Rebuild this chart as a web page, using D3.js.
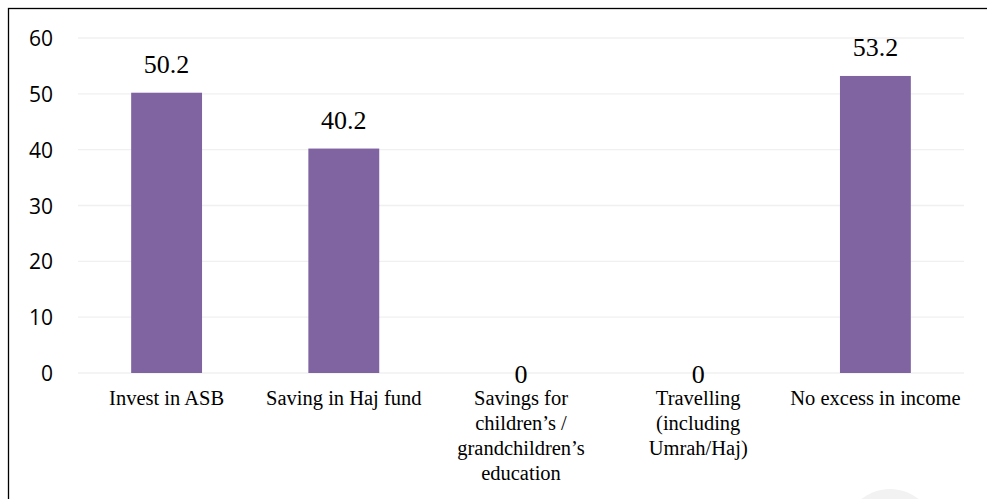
<!DOCTYPE html>
<html><head><meta charset="utf-8">
<script src="https://cdn.jsdelivr.net/npm/d3@7"></script>
<style>body{margin:0;background:#fff}svg{display:block}</style>
</head><body>
<script>
const categories = [["Invest in ASB"],["Saving in Haj fund"],["Savings for","children’s /","grandchildren’s","education"],["Travelling","(including","Umrah/Haj)"],["No excess in income"]];
const values = [50.2, 40.2, 0, 0, 53.2];
const yTicks = [0,10,20,30,40,50,60];

const SERIF = "Liberation Serif";
const SANS = "Open Sans";

const W = 987, H = 499;
const svg = d3.select("body").append("svg").attr("width", W).attr("height", H);
svg.append("rect").attr("x",8.5).attr("y",8.5).attr("width",W).attr("height",H).attr("fill","none").attr("stroke","#000").attr("stroke-width",1.3);
svg.append("circle").attr("cx",890).attr("cy",535).attr("r",46).attr("fill","#f2f2f2");

const x = d3.scaleBand().domain(d3.range(categories.length)).range([78,964]).paddingInner(0.6).paddingOuter(0.3);
const y = d3.scaleLinear().domain([0,60]).range([373,38]);

const g = svg.append("g");
g.selectAll("line.grid").data(yTicks).join("line").attr("class","grid")
  .attr("x1",78).attr("x2",964).attr("y1",d=>y(d)).attr("y2",d=>y(d))
  .attr("stroke","#f0f0f0").attr("stroke-width",1.3);

const yAxis = d3.axisLeft(y).tickValues(yTicks).tickSize(0).tickPadding(0);
const ya = svg.append("g").attr("transform","translate(53,0)").call(yAxis)
  .attr("font-family",SANS).attr("font-size",21);
ya.select(".domain").remove();
ya.selectAll("text").attr("font-family",SANS).attr("font-size",21).attr("fill","#000").attr("dy","0.36em");

g.selectAll("rect.bar").data(values).join("rect").attr("class","bar")
  .attr("x",(d,i)=>x(i)).attr("width",x.bandwidth())
  .attr("y",d=>y(d)).attr("height",d=>y(0)-y(d)).attr("fill","#8064A2");

g.selectAll("text.val").data(values).join("text").attr("class","val")
  .attr("x",(d,i)=>x(i)+x.bandwidth()/2)
  .attr("y",d=> d>0 ? y(d)-20 : y(0)+10)
  .attr("text-anchor","middle")
  .attr("font-family",SERIF).attr("font-size",26).attr("fill","#000").text(d=>d);

const lines = categories.flatMap((ls,i)=>ls.map((t,j)=>({t,i,j})));
g.selectAll("text.cat").data(lines).join("text").attr("class","cat")
  .attr("text-anchor","middle")
  .attr("x",d=>x(d.i)+x.bandwidth()/2).attr("y",d=>405+d.j*25)
  .attr("font-family",SERIF).attr("font-size",20.5).attr("fill","#000")
  .text(d=>d.t);
</script>
</body></html>
